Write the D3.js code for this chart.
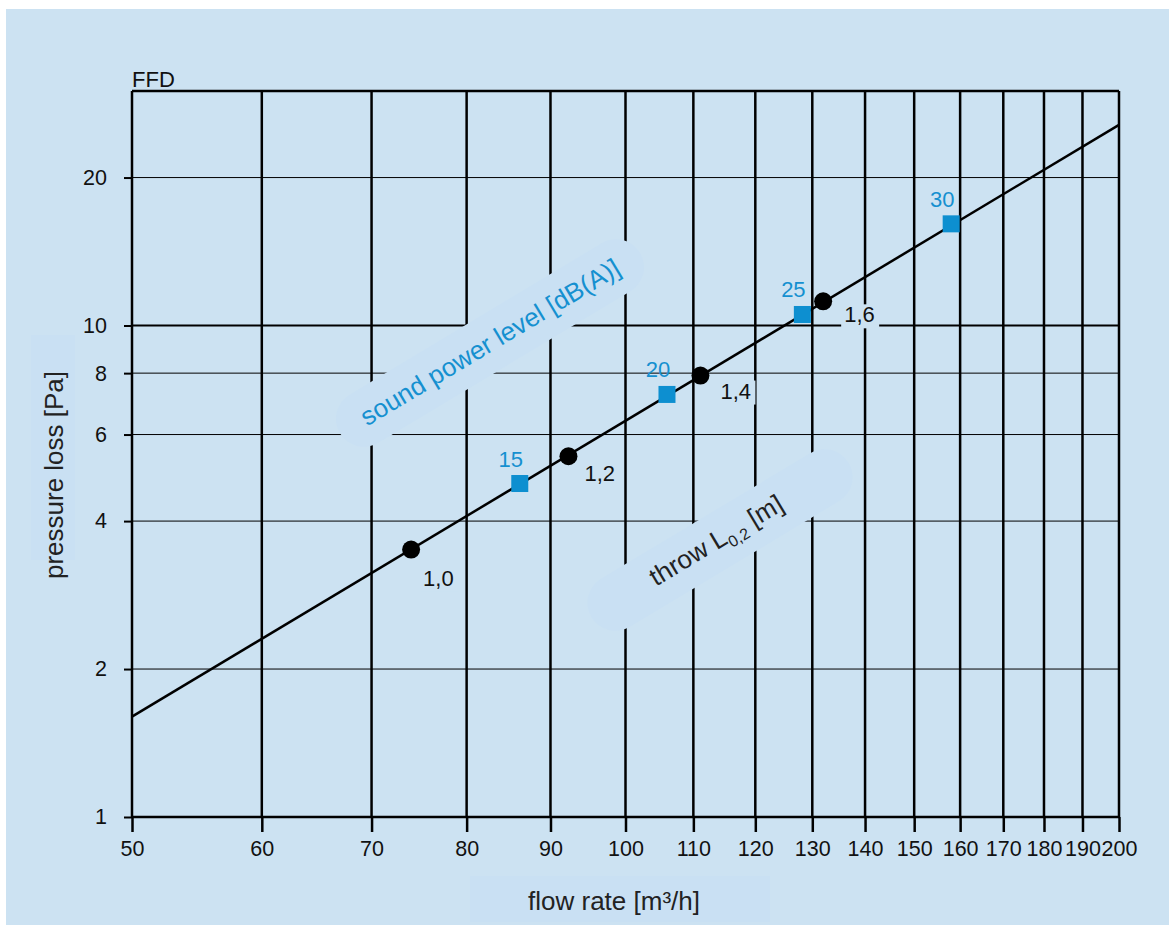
<!DOCTYPE html>
<html>
<head>
<meta charset="utf-8">
<script src="https://cdnjs.cloudflare.com/ajax/libs/d3/7.8.5/d3.min.js"></script>
<style>
  body { margin: 0; background: #fff; }
  svg { display: block; font-family: "Liberation Sans", Arial, sans-serif; }
</style>
</head>
<body>
<svg id="chart" width="1169" height="925"></svg>
<script>
// data
var xTicks = [50, 60, 70, 80, 90, 100, 110, 120, 130, 140, 150, 160, 170, 180, 190, 200];
var yTicks = [1, 2, 4, 6, 8, 10, 20];
var yGrid = [2, 4, 6, 8, 10, 20];

// characteristic line (endpoints at the plot edges)
var lineFlow = [50, 200];
var linePressure = [1.6, 25.6];

// throw L0,2 [m] markers
var throwFlow = [74.0, 92.3, 111.1, 132.0];
var throwPressure = [3.5, 5.42, 7.91, 11.2];
var throwLabels = ["1,0", "1,2", "1,4", "1,6"];

// sound power level [dB(A)] markers
var soundFlow = [86.2, 106.0, 128.2, 158.0];
var soundPressure = [4.77, 7.24, 10.53, 16.1];
var soundLabels = ["15", "20", "25", "30"];

var bg = "#cce2f2",
	patch = "#c9e0f3",
	blue = "#1590d0";

var svg = d3.select("#chart"),
	margin = {top: 91, right: 50, bottom: 108, left: 132},
	width = +svg.attr("width") - margin.left - margin.right,
	height = +svg.attr("height") - margin.top - margin.bottom;

svg.append("rect")
	.attr("x", 6).attr("y", 9)
	.attr("width", 1163).attr("height", 916)
	.attr("fill", bg);

var g = svg.append("g").attr("transform", "translate(" + margin.left + "," + margin.top + ")");

var x = d3.scaleLog().domain([50, 200]).range([0, width]);
var y = d3.scaleLog().domain([1, 30]).range([height, 0]);

// horizontal grid
g.append("g")
	.selectAll("line")
	.data(yGrid)
	.enter().append("line")
	.attr("x1", 0).attr("x2", width)
	.attr("y1", function(d) { return y(d); })
	.attr("y2", function(d) { return y(d); })
	.attr("stroke", "#000")
	.attr("stroke-width", function(d) { return d == 10 ? 2 : 1; });

// vertical grid
g.append("g")
	.selectAll("line")
	.data(xTicks)
	.enter().append("line")
	.attr("x1", function(d) { return x(d); })
	.attr("x2", function(d) { return x(d); })
	.attr("y1", 0).attr("y2", height)
	.attr("stroke", "#000")
	.attr("stroke-width", 2.5);

// top and bottom borders
g.append("line").attr("x1", 0).attr("x2", width).attr("y1", 0).attr("y2", 0)
	.attr("stroke", "#000").attr("stroke-width", 2.5);
g.append("line").attr("x1", 0).attr("x2", width).attr("y1", height).attr("y2", height)
	.attr("stroke", "#000").attr("stroke-width", 2.5);

// axes
var xAxis = g.append("g")
	.attr("transform", "translate(0," + height + ")")
	.call(d3.axisBottom(x).tickValues(xTicks).tickSize(15).tickPadding(9).tickFormat(d3.format("d")));
xAxis.select(".domain").remove();
xAxis.selectAll(".tick line").attr("stroke-width", 2.5);
xAxis.selectAll("text").attr("font-size", 21.5).attr("fill", "#111").attr("font-family", null);

var yAxis = g.append("g")
	.call(d3.axisLeft(y).tickValues(yTicks).tickSize(8).tickPadding(17).tickFormat(d3.format("d")));
yAxis.select(".domain").remove();
yAxis.selectAll(".tick line").attr("stroke-width", 2);
yAxis.selectAll("text").attr("font-size", 21.5).attr("fill", "#111").attr("font-family", null);

// annotation bands (hide grid under the rotated labels)
var angle = -31;

function band(cx, cy, w, h) {
	g.append("rect")
		.attr("x", -w / 2).attr("y", -h / 2)
		.attr("width", w).attr("height", h)
		.attr("rx", h / 2)
		.attr("fill", patch)
		.attr("transform", "translate(" + (cx - margin.left) + "," + (cy - margin.top) + ") rotate(" + angle + ")");
}
band(490, 343, 350, 56);
band(720, 540, 300, 56);

g.append("text")
	.attr("transform", "translate(" + (490 - margin.left) + "," + (342 - margin.top) + ") rotate(" + angle + ")")
	.attr("text-anchor", "middle")
	.attr("dy", "0.35em")
	.attr("font-size", 26)
	.attr("fill", blue)
	.text("sound power level [dB(A)]");

var throwText = g.append("text")
	.attr("transform", "translate(" + (716 - margin.left) + "," + (540 - margin.top) + ") rotate(" + angle + ")")
	.attr("text-anchor", "middle")
	.attr("dy", "0.35em")
	.attr("font-size", 26)
	.attr("fill", "#222");
throwText.append("tspan").text("throw L");
throwText.append("tspan").attr("font-size", 16).attr("dy", 6).text("0,2");
throwText.append("tspan").attr("dy", -6).text(" [m]");

// characteristic line
var line = d3.line()
	.x(function(d) { return x(d[0]); })
	.y(function(d) { return y(d[1]); });

g.append("path")
	.datum(d3.zip(lineFlow, linePressure))
	.attr("d", line)
	.attr("fill", "none")
	.attr("stroke", "#000")
	.attr("stroke-width", 2.5);

// sound power squares
var sq = 17;
g.append("g")
	.selectAll("rect")
	.data(d3.zip(soundFlow, soundPressure))
	.enter().append("rect")
	.attr("x", function(d) { return x(d[0]) - sq / 2; })
	.attr("y", function(d) { return y(d[1]) - sq / 2; })
	.attr("width", sq).attr("height", sq)
	.attr("fill", "#0d8fd0");

g.append("g")
	.selectAll("text")
	.data(soundLabels)
	.enter().append("text")
	.attr("x", function(d, i) { return x(soundFlow[i]) - 9; })
	.attr("y", function(d, i) { return y(soundPressure[i]) - 17; })
	.attr("text-anchor", "middle")
	.attr("font-size", 22)
	.attr("fill", blue)
	.text(function(d) { return d; });

// throw dots
g.append("g")
	.selectAll("circle")
	.data(d3.zip(throwFlow, throwPressure))
	.enter().append("circle")
	.attr("cx", function(d) { return x(d[0]); })
	.attr("cy", function(d) { return y(d[1]); })
	.attr("r", 9)
	.attr("fill", "#000");

var nudge = [[12, 36], [16, 25], [20, 23], [21, 21]];
var tl = g.append("g")
	.selectAll("g")
	.data(throwLabels)
	.enter().append("g")
	.attr("transform", function(d, i) {
		return "translate(" + (x(throwFlow[i]) + nudge[i][0]) + "," + (y(throwPressure[i]) + nudge[i][1]) + ")";
	});
tl.append("rect")
	.attr("x", -3).attr("y", -18)
	.attr("width", 38).attr("height", 24)
	.attr("fill", bg);
tl.append("text")
	.attr("font-size", 22)
	.attr("fill", "#111")
	.text(function(d) { return d; });

// titles
svg.append("text")
	.attr("x", 132).attr("y", 87)
	.attr("font-size", 22)
	.attr("fill", "#111")
	.text("FFD");

svg.append("rect")
	.attr("x", 31).attr("y", 335).attr("width", 44).attr("height", 225)
	.attr("fill", patch);
svg.append("text")
	.attr("transform", "translate(54,475) rotate(-90)")
	.attr("text-anchor", "middle")
	.attr("dy", "0.35em")
	.attr("font-size", 26)
	.attr("fill", "#222")
	.text("pressure loss [Pa]");

svg.append("rect")
	.attr("x", 470).attr("y", 876).attr("width", 300).attr("height", 46)
	.attr("fill", patch);
svg.append("text")
	.attr("x", 614).attr("y", 901)
	.attr("text-anchor", "middle")
	.attr("dy", "0.35em")
	.attr("font-size", 26)
	.attr("fill", "#222")
	.text("flow rate [m³/h]");
</script>
</body>
</html>
